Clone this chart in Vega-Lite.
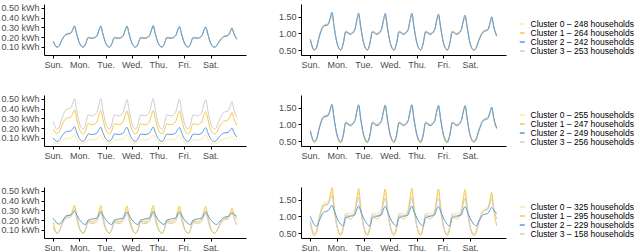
{
"$schema": "https://vega.github.io/schema/vega-lite/v6.json",
"padding": {"left": 0, "top": 3, "right": 0, "bottom": 0},
"config": {
  "font": "Liberation Sans",
  "view": {"stroke": null},
  "axis": {"grid": false, "domainColor": "#000", "tickColor": "#000", "labelColor": "#4d4d4d", "labelFontSize": 9, "tickSize": 3, "labelPadding": 2, "domainWidth": 1, "tickWidth": 1, "labelFlush": false, "labelOverlap": false},
  "legend": {"title": null, "orient": "none", "legendX": 474, "legendY": 16, "symbolType": "stroke", "symbolSize": 25, "symbolStrokeWidth": 1.5, "labelFontSize": 8.5, "labelColor": "#000", "rowPadding": 0, "clipHeight": 8, "labelOffset": 4, "padding": 0, "labelLimit": 300}
},
"datasets": {
"l1": [{"k":"a","label":"Cluster 0 – 248 households"},{"k":"b","label":"Cluster 1 – 264 households"},{"k":"c","label":"Cluster 2 – 242 households"},{"k":"d","label":"Cluster 3 – 253 households"},{"k":"e","label":"Cluster 0 – 248 households"},{"k":"f","label":"Cluster 1 – 264 households"},{"k":"g","label":"Cluster 2 – 242 households"},{"k":"i","label":"Cluster 3 – 253 households"}],
"l2": [{"k":"a","label":"Cluster 0 – 255 households"},{"k":"b","label":"Cluster 1 – 247 households"},{"k":"c","label":"Cluster 2 – 249 households"},{"k":"d","label":"Cluster 3 – 256 households"},{"k":"e","label":"Cluster 0 – 255 households"},{"k":"f","label":"Cluster 1 – 247 households"},{"k":"g","label":"Cluster 2 – 249 households"},{"k":"i","label":"Cluster 3 – 256 households"}],
"l3": [{"k":"a","label":"Cluster 0 – 325 households"},{"k":"b","label":"Cluster 1 – 295 households"},{"k":"c","label":"Cluster 2 – 229 households"},{"k":"d","label":"Cluster 3 – 158 households"},{"k":"e","label":"Cluster 0 – 325 households"},{"k":"f","label":"Cluster 1 – 295 households"},{"k":"g","label":"Cluster 2 – 229 households"},{"k":"i","label":"Cluster 3 – 158 households"}],
"r1": [
{"h":0,"a":0.16,"b":0.162,"c":0.158,"d":0.16,"e":0.82,"f":0.83,"g":0.81,"i":0.82},
{"h":3.5,"a":0.1,"b":0.101,"c":0.097,"d":0.099,"e":0.5,"f":0.5,"g":0.5,"i":0.5},
{"h":5.5,"a":0.113,"b":0.114,"c":0.111,"d":0.113,"e":0.57,"f":0.58,"g":0.56,"i":0.57},
{"h":8,"a":0.172,"b":0.176,"c":0.17,"d":0.173,"e":0.9,"f":0.92,"g":0.89,"i":0.9},
{"h":12,"a":0.23,"b":0.234,"c":0.228,"d":0.231,"e":1.22,"f":1.24,"g":1.21,"i":1.22},
{"h":16,"a":0.24,"b":0.244,"c":0.238,"d":0.24,"e":1.27,"f":1.29,"g":1.26,"i":1.27},
{"h":18,"a":0.278,"b":0.276,"c":0.28,"d":0.278,"e":1.45,"f":1.42,"g":1.47,"i":1.44},
{"h":19.5,"a":0.31,"b":0.305,"c":0.315,"d":0.31,"e":1.6,"f":1.55,"g":1.63,"i":1.59},
{"h":21.5,"a":0.23,"b":0.23,"c":0.232,"d":0.231,"e":1.18,"f":1.16,"g":1.2,"i":1.18},
{"h":24,"a":0.142,"b":0.143,"c":0.14,"d":0.142,"e":0.72,"f":0.72,"g":0.72,"i":0.72},
{"h":27.5,"a":0.1,"b":0.101,"c":0.097,"d":0.099,"e":0.5,"f":0.49,"g":0.5,"i":0.5},
{"h":29.5,"a":0.129,"b":0.131,"c":0.127,"d":0.129,"e":0.67,"f":0.68,"g":0.66,"i":0.67},
{"h":32,"a":0.195,"b":0.199,"c":0.193,"d":0.195,"e":1.05,"f":1.07,"g":1.04,"i":1.05},
{"h":36,"a":0.19,"b":0.194,"c":0.188,"d":0.191,"e":0.98,"f":1,"g":0.97,"i":0.98},
{"h":40,"a":0.214,"b":0.218,"c":0.212,"d":0.214,"e":1.1,"f":1.12,"g":1.09,"i":1.1},
{"h":42,"a":0.274,"b":0.272,"c":0.276,"d":0.274,"e":1.4,"f":1.37,"g":1.42,"i":1.39},
{"h":43.5,"a":0.31,"b":0.306,"c":0.314,"d":0.31,"e":1.58,"f":1.53,"g":1.61,"i":1.57},
{"h":45.5,"a":0.23,"b":0.229,"c":0.232,"d":0.23,"e":1.17,"f":1.15,"g":1.19,"i":1.17},
{"h":48,"a":0.142,"b":0.143,"c":0.14,"d":0.142,"e":0.72,"f":0.72,"g":0.72,"i":0.72},
{"h":51.5,"a":0.1,"b":0.101,"c":0.097,"d":0.099,"e":0.5,"f":0.49,"g":0.5,"i":0.5},
{"h":53.5,"a":0.129,"b":0.131,"c":0.127,"d":0.129,"e":0.67,"f":0.68,"g":0.66,"i":0.67},
{"h":56,"a":0.195,"b":0.199,"c":0.193,"d":0.195,"e":1.05,"f":1.07,"g":1.04,"i":1.05},
{"h":60,"a":0.19,"b":0.194,"c":0.188,"d":0.191,"e":0.98,"f":1,"g":0.97,"i":0.98},
{"h":64,"a":0.214,"b":0.218,"c":0.212,"d":0.214,"e":1.1,"f":1.12,"g":1.09,"i":1.1},
{"h":66,"a":0.274,"b":0.272,"c":0.276,"d":0.274,"e":1.4,"f":1.37,"g":1.42,"i":1.39},
{"h":67.5,"a":0.31,"b":0.306,"c":0.314,"d":0.31,"e":1.57,"f":1.52,"g":1.6,"i":1.56},
{"h":69.5,"a":0.23,"b":0.229,"c":0.232,"d":0.23,"e":1.17,"f":1.15,"g":1.19,"i":1.17},
{"h":72,"a":0.142,"b":0.143,"c":0.14,"d":0.142,"e":0.72,"f":0.72,"g":0.72,"i":0.72},
{"h":75.5,"a":0.1,"b":0.101,"c":0.097,"d":0.099,"e":0.5,"f":0.49,"g":0.5,"i":0.5},
{"h":77.5,"a":0.129,"b":0.131,"c":0.127,"d":0.129,"e":0.67,"f":0.68,"g":0.66,"i":0.67},
{"h":80,"a":0.195,"b":0.199,"c":0.193,"d":0.195,"e":1.05,"f":1.07,"g":1.04,"i":1.05},
{"h":84,"a":0.19,"b":0.194,"c":0.188,"d":0.191,"e":0.98,"f":1,"g":0.97,"i":0.98},
{"h":88,"a":0.214,"b":0.218,"c":0.212,"d":0.214,"e":1.1,"f":1.12,"g":1.09,"i":1.1},
{"h":90,"a":0.274,"b":0.272,"c":0.276,"d":0.274,"e":1.4,"f":1.37,"g":1.42,"i":1.39},
{"h":91.5,"a":0.315,"b":0.311,"c":0.319,"d":0.315,"e":1.58,"f":1.53,"g":1.61,"i":1.57},
{"h":93.5,"a":0.23,"b":0.229,"c":0.232,"d":0.23,"e":1.17,"f":1.15,"g":1.19,"i":1.17},
{"h":96,"a":0.142,"b":0.143,"c":0.14,"d":0.142,"e":0.72,"f":0.72,"g":0.72,"i":0.72},
{"h":99.5,"a":0.1,"b":0.101,"c":0.097,"d":0.099,"e":0.5,"f":0.49,"g":0.5,"i":0.5},
{"h":101.5,"a":0.129,"b":0.131,"c":0.127,"d":0.129,"e":0.67,"f":0.68,"g":0.66,"i":0.67},
{"h":104,"a":0.195,"b":0.199,"c":0.193,"d":0.195,"e":1.05,"f":1.07,"g":1.04,"i":1.05},
{"h":108,"a":0.19,"b":0.194,"c":0.188,"d":0.191,"e":0.98,"f":1,"g":0.97,"i":0.98},
{"h":112,"a":0.214,"b":0.218,"c":0.212,"d":0.214,"e":1.1,"f":1.12,"g":1.09,"i":1.1},
{"h":114,"a":0.274,"b":0.272,"c":0.276,"d":0.274,"e":1.4,"f":1.37,"g":1.42,"i":1.39},
{"h":115.5,"a":0.305,"b":0.301,"c":0.309,"d":0.305,"e":1.55,"f":1.5,"g":1.58,"i":1.54},
{"h":117.5,"a":0.23,"b":0.229,"c":0.232,"d":0.23,"e":1.17,"f":1.15,"g":1.19,"i":1.17},
{"h":120,"a":0.142,"b":0.143,"c":0.14,"d":0.142,"e":0.72,"f":0.72,"g":0.72,"i":0.72},
{"h":123.5,"a":0.1,"b":0.101,"c":0.097,"d":0.099,"e":0.5,"f":0.49,"g":0.5,"i":0.5},
{"h":125.5,"a":0.129,"b":0.131,"c":0.127,"d":0.129,"e":0.67,"f":0.68,"g":0.66,"i":0.67},
{"h":128,"a":0.195,"b":0.199,"c":0.193,"d":0.195,"e":1.05,"f":1.07,"g":1.04,"i":1.05},
{"h":132,"a":0.19,"b":0.194,"c":0.188,"d":0.191,"e":0.98,"f":1,"g":0.97,"i":0.98},
{"h":136,"a":0.214,"b":0.218,"c":0.212,"d":0.214,"e":1.1,"f":1.12,"g":1.09,"i":1.1},
{"h":138,"a":0.274,"b":0.272,"c":0.276,"d":0.274,"e":1.38,"f":1.35,"g":1.4,"i":1.37},
{"h":139.5,"a":0.3,"b":0.296,"c":0.304,"d":0.3,"e":1.52,"f":1.47,"g":1.55,"i":1.51},
{"h":141.5,"a":0.23,"b":0.229,"c":0.232,"d":0.23,"e":1.16,"f":1.14,"g":1.18,"i":1.16},
{"h":144,"a":0.14,"b":0.141,"c":0.139,"d":0.14,"e":0.7,"f":0.7,"g":0.7,"i":0.7},
{"h":147.5,"a":0.1,"b":0.101,"c":0.097,"d":0.099,"e":0.5,"f":0.49,"g":0.5,"i":0.5},
{"h":149.5,"a":0.113,"b":0.114,"c":0.111,"d":0.113,"e":0.57,"f":0.58,"g":0.56,"i":0.57},
{"h":152,"a":0.158,"b":0.162,"c":0.156,"d":0.158,"e":0.8,"f":0.82,"g":0.79,"i":0.8},
{"h":156,"a":0.205,"b":0.209,"c":0.203,"d":0.206,"e":1.05,"f":1.07,"g":1.04,"i":1.05},
{"h":160,"a":0.218,"b":0.222,"c":0.216,"d":0.218,"e":1.11,"f":1.13,"g":1.1,"i":1.11},
{"h":162,"a":0.256,"b":0.254,"c":0.258,"d":0.256,"e":1.3,"f":1.27,"g":1.32,"i":1.29},
{"h":163.5,"a":0.29,"b":0.286,"c":0.294,"d":0.29,"e":1.47,"f":1.42,"g":1.5,"i":1.46},
{"h":165.5,"a":0.23,"b":0.229,"c":0.232,"d":0.23,"e":1.17,"f":1.15,"g":1.19,"i":1.17},
{"h":168,"a":0.18,"b":0.181,"c":0.178,"d":0.18,"e":0.92,"f":0.9,"g":0.93,"i":0.92}
],
"r2": [
{"h":0,"a":0.06,"b":0.19,"c":0.1,"d":0.27,"e":0.8,"f":0.84,"g":0.79,"i":0.81},
{"h":3.5,"a":0.04,"b":0.145,"c":0.065,"d":0.19,"e":0.48,"f":0.45,"g":0.49,"i":0.48},
{"h":5.5,"a":0.046,"b":0.161,"c":0.075,"d":0.21,"e":0.55,"f":0.52,"g":0.55,"i":0.56},
{"h":8,"a":0.07,"b":0.23,"c":0.12,"d":0.3,"e":0.89,"f":0.87,"g":0.87,"i":0.91},
{"h":12,"a":0.095,"b":0.3,"c":0.165,"d":0.39,"e":1.22,"f":1.23,"g":1.21,"i":1.25},
{"h":16,"a":0.1,"b":0.31,"c":0.171,"d":0.403,"e":1.26,"f":1.27,"g":1.26,"i":1.29},
{"h":18,"a":0.119,"b":0.351,"c":0.195,"d":0.456,"e":1.44,"f":1.43,"g":1.45,"i":1.45},
{"h":19.5,"a":0.135,"b":0.385,"c":0.215,"d":0.5,"e":1.58,"f":1.56,"g":1.6,"i":1.58},
{"h":21.5,"a":0.099,"b":0.294,"c":0.158,"d":0.382,"e":1.16,"f":1.13,"g":1.17,"i":1.16},
{"h":24,"a":0.059,"b":0.188,"c":0.094,"d":0.252,"e":0.69,"f":0.66,"g":0.7,"i":0.69},
{"h":27.5,"a":0.04,"b":0.14,"c":0.065,"d":0.19,"e":0.47,"f":0.44,"g":0.48,"i":0.47},
{"h":29.5,"a":0.053,"b":0.172,"c":0.088,"d":0.234,"e":0.65,"f":0.62,"g":0.64,"i":0.66},
{"h":32,"a":0.082,"b":0.245,"c":0.14,"d":0.335,"e":1.06,"f":1.05,"g":1.04,"i":1.08},
{"h":36,"a":0.08,"b":0.235,"c":0.135,"d":0.325,"e":0.97,"f":0.99,"g":0.96,"i":1},
{"h":40,"a":0.09,"b":0.264,"c":0.15,"d":0.36,"e":1.09,"f":1.1,"g":1.09,"i":1.12},
{"h":42,"a":0.115,"b":0.337,"c":0.188,"d":0.448,"e":1.39,"f":1.38,"g":1.4,"i":1.4},
{"h":43.5,"a":0.13,"b":0.38,"c":0.21,"d":0.5,"e":1.57,"f":1.55,"g":1.59,"i":1.57},
{"h":45.5,"a":0.096,"b":0.289,"c":0.155,"d":0.382,"e":1.15,"f":1.12,"g":1.16,"i":1.15},
{"h":48,"a":0.059,"b":0.188,"c":0.094,"d":0.252,"e":0.69,"f":0.66,"g":0.7,"i":0.69},
{"h":51.5,"a":0.04,"b":0.14,"c":0.065,"d":0.19,"e":0.47,"f":0.44,"g":0.48,"i":0.47},
{"h":53.5,"a":0.053,"b":0.172,"c":0.088,"d":0.234,"e":0.65,"f":0.62,"g":0.64,"i":0.66},
{"h":56,"a":0.082,"b":0.245,"c":0.14,"d":0.335,"e":1.06,"f":1.05,"g":1.04,"i":1.08},
{"h":60,"a":0.08,"b":0.235,"c":0.135,"d":0.325,"e":0.97,"f":0.99,"g":0.96,"i":1},
{"h":64,"a":0.09,"b":0.264,"c":0.15,"d":0.36,"e":1.09,"f":1.1,"g":1.09,"i":1.12},
{"h":66,"a":0.115,"b":0.337,"c":0.188,"d":0.448,"e":1.39,"f":1.38,"g":1.4,"i":1.4},
{"h":67.5,"a":0.13,"b":0.375,"c":0.21,"d":0.49,"e":1.56,"f":1.54,"g":1.58,"i":1.56},
{"h":69.5,"a":0.096,"b":0.289,"c":0.155,"d":0.382,"e":1.15,"f":1.12,"g":1.16,"i":1.15},
{"h":72,"a":0.059,"b":0.188,"c":0.094,"d":0.252,"e":0.69,"f":0.66,"g":0.7,"i":0.69},
{"h":75.5,"a":0.04,"b":0.14,"c":0.065,"d":0.19,"e":0.47,"f":0.44,"g":0.48,"i":0.47},
{"h":77.5,"a":0.053,"b":0.172,"c":0.088,"d":0.234,"e":0.65,"f":0.62,"g":0.64,"i":0.66},
{"h":80,"a":0.082,"b":0.245,"c":0.14,"d":0.335,"e":1.06,"f":1.05,"g":1.04,"i":1.08},
{"h":84,"a":0.08,"b":0.235,"c":0.135,"d":0.325,"e":0.97,"f":0.99,"g":0.96,"i":1},
{"h":88,"a":0.09,"b":0.264,"c":0.15,"d":0.36,"e":1.09,"f":1.1,"g":1.09,"i":1.12},
{"h":90,"a":0.115,"b":0.337,"c":0.188,"d":0.448,"e":1.39,"f":1.38,"g":1.4,"i":1.4},
{"h":91.5,"a":0.132,"b":0.38,"c":0.212,"d":0.5,"e":1.57,"f":1.55,"g":1.59,"i":1.57},
{"h":93.5,"a":0.096,"b":0.289,"c":0.155,"d":0.382,"e":1.15,"f":1.12,"g":1.16,"i":1.15},
{"h":96,"a":0.059,"b":0.188,"c":0.094,"d":0.252,"e":0.69,"f":0.66,"g":0.7,"i":0.69},
{"h":99.5,"a":0.04,"b":0.14,"c":0.065,"d":0.19,"e":0.47,"f":0.44,"g":0.48,"i":0.47},
{"h":101.5,"a":0.053,"b":0.172,"c":0.088,"d":0.234,"e":0.65,"f":0.62,"g":0.64,"i":0.66},
{"h":104,"a":0.082,"b":0.245,"c":0.14,"d":0.335,"e":1.06,"f":1.05,"g":1.04,"i":1.08},
{"h":108,"a":0.08,"b":0.235,"c":0.135,"d":0.325,"e":0.97,"f":0.99,"g":0.96,"i":1},
{"h":112,"a":0.09,"b":0.264,"c":0.15,"d":0.36,"e":1.09,"f":1.1,"g":1.09,"i":1.12},
{"h":114,"a":0.115,"b":0.337,"c":0.188,"d":0.448,"e":1.39,"f":1.38,"g":1.4,"i":1.4},
{"h":115.5,"a":0.128,"b":0.375,"c":0.207,"d":0.495,"e":1.55,"f":1.53,"g":1.57,"i":1.55},
{"h":117.5,"a":0.096,"b":0.289,"c":0.155,"d":0.382,"e":1.15,"f":1.12,"g":1.16,"i":1.15},
{"h":120,"a":0.059,"b":0.188,"c":0.094,"d":0.252,"e":0.69,"f":0.66,"g":0.7,"i":0.69},
{"h":123.5,"a":0.04,"b":0.14,"c":0.065,"d":0.19,"e":0.47,"f":0.44,"g":0.48,"i":0.47},
{"h":125.5,"a":0.053,"b":0.172,"c":0.088,"d":0.234,"e":0.65,"f":0.62,"g":0.64,"i":0.66},
{"h":128,"a":0.082,"b":0.245,"c":0.14,"d":0.335,"e":1.06,"f":1.05,"g":1.04,"i":1.08},
{"h":132,"a":0.08,"b":0.235,"c":0.135,"d":0.325,"e":0.97,"f":0.99,"g":0.96,"i":1},
{"h":136,"a":0.09,"b":0.264,"c":0.15,"d":0.36,"e":1.09,"f":1.1,"g":1.09,"i":1.12},
{"h":138,"a":0.115,"b":0.337,"c":0.188,"d":0.448,"e":1.39,"f":1.38,"g":1.4,"i":1.4},
{"h":139.5,"a":0.127,"b":0.37,"c":0.205,"d":0.49,"e":1.54,"f":1.52,"g":1.56,"i":1.54},
{"h":141.5,"a":0.096,"b":0.289,"c":0.155,"d":0.382,"e":1.15,"f":1.12,"g":1.16,"i":1.15},
{"h":144,"a":0.058,"b":0.186,"c":0.093,"d":0.25,"e":0.68,"f":0.65,"g":0.69,"i":0.68},
{"h":147.5,"a":0.04,"b":0.14,"c":0.065,"d":0.19,"e":0.48,"f":0.45,"g":0.49,"i":0.48},
{"h":149.5,"a":0.046,"b":0.156,"c":0.075,"d":0.21,"e":0.56,"f":0.53,"g":0.56,"i":0.57},
{"h":152,"a":0.068,"b":0.212,"c":0.112,"d":0.284,"e":0.83,"f":0.81,"g":0.81,"i":0.85},
{"h":156,"a":0.09,"b":0.27,"c":0.15,"d":0.36,"e":1.12,"f":1.13,"g":1.11,"i":1.15},
{"h":160,"a":0.095,"b":0.284,"c":0.158,"d":0.377,"e":1.18,"f":1.19,"g":1.17,"i":1.21},
{"h":162,"a":0.111,"b":0.324,"c":0.18,"d":0.426,"e":1.35,"f":1.34,"g":1.36,"i":1.36},
{"h":163.5,"a":0.125,"b":0.36,"c":0.2,"d":0.47,"e":1.5,"f":1.48,"g":1.52,"i":1.5},
{"h":165.5,"a":0.1,"b":0.289,"c":0.151,"d":0.382,"e":1.16,"f":1.13,"g":1.17,"i":1.16},
{"h":168,"a":0.08,"b":0.23,"c":0.11,"d":0.31,"e":0.88,"f":0.85,"g":0.89,"i":0.88}
],
"r3": [
{"h":0,"a":0.12,"b":0.18,"c":0.22,"d":0.13,"e":0.88,"f":0.8,"g":1,"i":0.85},
{"h":3.5,"a":0.07,"b":0.07,"c":0.17,"d":0.065,"e":0.48,"f":0.42,"g":0.76,"i":0.46},
{"h":5.5,"a":0.088,"b":0.087,"c":0.158,"d":0.081,"e":0.57,"f":0.51,"g":0.7,"i":0.55},
{"h":8,"a":0.166,"b":0.161,"c":0.185,"d":0.15,"e":0.99,"f":0.9,"g":0.86,"i":0.95},
{"h":12,"a":0.245,"b":0.235,"c":0.245,"d":0.22,"e":1.4,"f":1.3,"g":1.12,"i":1.35},
{"h":16,"a":0.255,"b":0.249,"c":0.252,"d":0.231,"e":1.44,"f":1.37,"g":1.17,"i":1.38},
{"h":18,"a":0.296,"b":0.307,"c":0.272,"d":0.274,"e":1.59,"f":1.64,"g":1.26,"i":1.51},
{"h":19.5,"a":0.33,"b":0.355,"c":0.29,"d":0.31,"e":1.72,"f":1.86,"g":1.33,"i":1.62},
{"h":21.5,"a":0.231,"b":0.247,"c":0.255,"d":0.217,"e":1.25,"f":1.31,"g":1.18,"i":1.18},
{"h":24,"a":0.122,"b":0.123,"c":0.205,"d":0.107,"e":0.73,"f":0.71,"g":0.95,"i":0.69},
{"h":27.5,"a":0.07,"b":0.065,"c":0.165,"d":0.065,"e":0.48,"f":0.42,"g":0.76,"i":0.46},
{"h":29.5,"a":0.109,"b":0.103,"c":0.155,"d":0.098,"e":0.67,"f":0.59,"g":0.71,"i":0.64},
{"h":32,"a":0.2,"b":0.19,"c":0.2,"d":0.175,"e":1.1,"f":1,"g":0.95,"i":1.05},
{"h":36,"a":0.19,"b":0.18,"c":0.212,"d":0.165,"e":1.08,"f":0.92,"g":1,"i":1.02},
{"h":40,"a":0.216,"b":0.214,"c":0.222,"d":0.187,"e":1.21,"f":1.1,"g":1.04,"i":1.13},
{"h":42,"a":0.281,"b":0.299,"c":0.262,"d":0.242,"e":1.53,"f":1.56,"g":1.22,"i":1.4},
{"h":43.5,"a":0.32,"b":0.35,"c":0.29,"d":0.275,"e":1.72,"f":1.84,"g":1.31,"i":1.57},
{"h":45.5,"a":0.225,"b":0.242,"c":0.252,"d":0.195,"e":1.25,"f":1.29,"g":1.15,"i":1.14},
{"h":48,"a":0.122,"b":0.123,"c":0.205,"d":0.107,"e":0.73,"f":0.71,"g":0.95,"i":0.69},
{"h":51.5,"a":0.07,"b":0.065,"c":0.165,"d":0.065,"e":0.48,"f":0.42,"g":0.76,"i":0.46},
{"h":53.5,"a":0.109,"b":0.103,"c":0.155,"d":0.098,"e":0.67,"f":0.59,"g":0.71,"i":0.64},
{"h":56,"a":0.2,"b":0.19,"c":0.2,"d":0.175,"e":1.1,"f":1,"g":0.95,"i":1.05},
{"h":60,"a":0.19,"b":0.18,"c":0.212,"d":0.165,"e":1.08,"f":0.92,"g":1,"i":1.02},
{"h":64,"a":0.216,"b":0.214,"c":0.222,"d":0.187,"e":1.21,"f":1.1,"g":1.04,"i":1.13},
{"h":66,"a":0.281,"b":0.299,"c":0.262,"d":0.242,"e":1.53,"f":1.56,"g":1.22,"i":1.4},
{"h":67.5,"a":0.315,"b":0.345,"c":0.285,"d":0.27,"e":1.7,"f":1.82,"g":1.3,"i":1.55},
{"h":69.5,"a":0.225,"b":0.242,"c":0.252,"d":0.195,"e":1.25,"f":1.29,"g":1.15,"i":1.14},
{"h":72,"a":0.122,"b":0.123,"c":0.205,"d":0.107,"e":0.73,"f":0.71,"g":0.95,"i":0.69},
{"h":75.5,"a":0.07,"b":0.065,"c":0.165,"d":0.065,"e":0.48,"f":0.42,"g":0.76,"i":0.46},
{"h":77.5,"a":0.109,"b":0.103,"c":0.155,"d":0.098,"e":0.67,"f":0.59,"g":0.71,"i":0.64},
{"h":80,"a":0.2,"b":0.19,"c":0.2,"d":0.175,"e":1.1,"f":1,"g":0.95,"i":1.05},
{"h":84,"a":0.19,"b":0.18,"c":0.212,"d":0.165,"e":1.08,"f":0.92,"g":1,"i":1.02},
{"h":88,"a":0.216,"b":0.214,"c":0.222,"d":0.187,"e":1.21,"f":1.1,"g":1.04,"i":1.13},
{"h":90,"a":0.281,"b":0.299,"c":0.262,"d":0.242,"e":1.53,"f":1.56,"g":1.22,"i":1.4},
{"h":91.5,"a":0.32,"b":0.35,"c":0.29,"d":0.275,"e":1.72,"f":1.84,"g":1.31,"i":1.56},
{"h":93.5,"a":0.225,"b":0.242,"c":0.252,"d":0.195,"e":1.25,"f":1.29,"g":1.15,"i":1.14},
{"h":96,"a":0.122,"b":0.123,"c":0.205,"d":0.107,"e":0.73,"f":0.71,"g":0.95,"i":0.69},
{"h":99.5,"a":0.07,"b":0.065,"c":0.165,"d":0.065,"e":0.48,"f":0.42,"g":0.76,"i":0.46},
{"h":101.5,"a":0.109,"b":0.103,"c":0.155,"d":0.098,"e":0.67,"f":0.59,"g":0.71,"i":0.64},
{"h":104,"a":0.2,"b":0.19,"c":0.2,"d":0.175,"e":1.1,"f":1,"g":0.95,"i":1.05},
{"h":108,"a":0.19,"b":0.18,"c":0.212,"d":0.165,"e":1.08,"f":0.92,"g":1,"i":1.02},
{"h":112,"a":0.216,"b":0.214,"c":0.222,"d":0.187,"e":1.21,"f":1.1,"g":1.04,"i":1.13},
{"h":114,"a":0.281,"b":0.299,"c":0.262,"d":0.242,"e":1.53,"f":1.56,"g":1.22,"i":1.4},
{"h":115.5,"a":0.315,"b":0.345,"c":0.285,"d":0.27,"e":1.7,"f":1.82,"g":1.3,"i":1.55},
{"h":117.5,"a":0.225,"b":0.242,"c":0.252,"d":0.195,"e":1.25,"f":1.29,"g":1.15,"i":1.14},
{"h":120,"a":0.122,"b":0.123,"c":0.205,"d":0.107,"e":0.73,"f":0.71,"g":0.95,"i":0.69},
{"h":123.5,"a":0.07,"b":0.065,"c":0.165,"d":0.065,"e":0.48,"f":0.42,"g":0.76,"i":0.46},
{"h":125.5,"a":0.109,"b":0.103,"c":0.155,"d":0.098,"e":0.67,"f":0.59,"g":0.71,"i":0.64},
{"h":128,"a":0.2,"b":0.19,"c":0.2,"d":0.175,"e":1.1,"f":1,"g":0.95,"i":1.05},
{"h":132,"a":0.19,"b":0.18,"c":0.212,"d":0.165,"e":1.08,"f":0.92,"g":1,"i":1.02},
{"h":136,"a":0.216,"b":0.214,"c":0.222,"d":0.187,"e":1.21,"f":1.1,"g":1.04,"i":1.13},
{"h":138,"a":0.281,"b":0.299,"c":0.262,"d":0.242,"e":1.53,"f":1.56,"g":1.22,"i":1.4},
{"h":139.5,"a":0.31,"b":0.34,"c":0.285,"d":0.27,"e":1.68,"f":1.8,"g":1.29,"i":1.54},
{"h":141.5,"a":0.225,"b":0.242,"c":0.252,"d":0.195,"e":1.25,"f":1.29,"g":1.15,"i":1.14},
{"h":144,"a":0.12,"b":0.12,"c":0.205,"d":0.11,"e":0.72,"f":0.7,"g":0.95,"i":0.68},
{"h":147.5,"a":0.07,"b":0.065,"c":0.165,"d":0.07,"e":0.48,"f":0.42,"g":0.76,"i":0.47},
{"h":149.5,"a":0.088,"b":0.082,"c":0.155,"d":0.086,"e":0.57,"f":0.51,"g":0.71,"i":0.55},
{"h":152,"a":0.153,"b":0.145,"c":0.18,"d":0.142,"e":0.88,"f":0.82,"g":0.86,"i":0.84},
{"h":156,"a":0.22,"b":0.21,"c":0.228,"d":0.2,"e":1.2,"f":1.15,"g":1.05,"i":1.15},
{"h":160,"a":0.234,"b":0.227,"c":0.238,"d":0.212,"e":1.26,"f":1.24,"g":1.09,"i":1.21},
{"h":162,"a":0.274,"b":0.279,"c":0.258,"d":0.248,"e":1.45,"f":1.49,"g":1.19,"i":1.37},
{"h":163.5,"a":0.31,"b":0.325,"c":0.275,"d":0.28,"e":1.62,"f":1.72,"g":1.27,"i":1.52},
{"h":165.5,"a":0.233,"b":0.262,"c":0.258,"d":0.209,"e":1.25,"f":1.17,"g":1.18,"i":1.19},
{"h":168,"a":0.17,"b":0.21,"c":0.24,"d":0.15,"e":0.95,"f":0.72,"g":1.08,"i":0.92}
]
},
"spacing": 25,
"resolve": {"scale": {"color": "independent", "x": "independent", "y": "independent"}, "legend": {"color": "independent"}},
"vconcat": [
{"hconcat": [
 {"width": 202, "height": 51, "data": {"name": "r1"},
  "transform": [{"fold": ["a","b","d","c"], "as": ["k","v"]}, {"lookup": "k", "from": {"data": {"name": "l1"}, "key": "k", "fields": ["label"]}}],
  "mark": {"type": "line", "strokeWidth": 1, "interpolate": "monotone"},
  "encoding": {
   "x": {"field": "h", "type": "quantitative", "scale": {"domain": [-8.4, 176.4], "nice": false, "zero": false}, "axis": {"title": null, "values": [0,24,48,72,96,120,144], "labelExpr": "['Sun.','Mon.','Tue.','Wed.','Thu.','Fri.','Sat.'][round(datum.value/24)]", "minExtent": 14, "maxExtent": 14}},
   "y": {"field": "v", "type": "quantitative", "scale": {"domain": [0.018, 0.538], "nice": false, "zero": false}, "axis": {"title": null, "values": [0.1,0.2,0.3,0.4,0.5], "labelExpr": "format(datum.value, '.2f') + ' kWh'", "minExtent": 42, "maxExtent": 42}},
   "color": {"field": "label", "type": "nominal", "scale": {"range": ["#FDE8A4", "#F5C845", "#5A9BE2", "#CDCDCD"]}}
  }},
 {"width": 205, "height": 51, "data": {"name": "r1"},
  "transform": [{"fold": ["e","f","i","g"], "as": ["k","v"]}, {"lookup": "k", "from": {"data": {"name": "l1"}, "key": "k", "fields": ["label"]}}],
  "mark": {"type": "line", "strokeWidth": 1, "interpolate": "monotone"},
  "encoding": {
   "x": {"field": "h", "type": "quantitative", "scale": {"domain": [-8.4, 176.4], "nice": false, "zero": false}, "axis": {"title": null, "values": [0,24,48,72,96,120,144], "labelExpr": "['Sun.','Mon.','Tue.','Wed.','Thu.','Fri.','Sat.'][round(datum.value/24)]", "minExtent": 14, "maxExtent": 14}},
   "y": {"field": "v", "type": "quantitative", "scale": {"domain": [0.35, 1.88], "nice": false, "zero": false}, "axis": {"title": null, "values": [0.5,1,1.5], "format": ".2f", "minExtent": 22, "maxExtent": 22}},
   "color": {"field": "label", "type": "nominal", "scale": {"range": ["#FDE8A4", "#F5C845", "#5A9BE2", "#CDCDCD"]}}
  }}
 ], "spacing": 32, "resolve": {"scale": {"color": "shared", "x": "independent", "y": "independent"}, "legend": {"color": "shared"}}},
{"hconcat": [
 {"width": 202, "height": 51, "data": {"name": "r2"},
  "transform": [{"fold": ["a","b","d","c"], "as": ["k","v"]}, {"lookup": "k", "from": {"data": {"name": "l2"}, "key": "k", "fields": ["label"]}}],
  "mark": {"type": "line", "strokeWidth": 1, "interpolate": "monotone"},
  "encoding": {
   "x": {"field": "h", "type": "quantitative", "scale": {"domain": [-8.4, 176.4], "nice": false, "zero": false}, "axis": {"title": null, "values": [0,24,48,72,96,120,144], "labelExpr": "['Sun.','Mon.','Tue.','Wed.','Thu.','Fri.','Sat.'][round(datum.value/24)]", "minExtent": 14, "maxExtent": 14}},
   "y": {"field": "v", "type": "quantitative", "scale": {"domain": [0.018, 0.538], "nice": false, "zero": false}, "axis": {"title": null, "values": [0.1,0.2,0.3,0.4,0.5], "labelExpr": "format(datum.value, '.2f') + ' kWh'", "minExtent": 42, "maxExtent": 42}},
   "color": {"field": "label", "type": "nominal", "scale": {"range": ["#FDE8A4", "#F5C845", "#5A9BE2", "#CDCDCD"]}}
  }},
 {"width": 205, "height": 51, "data": {"name": "r2"},
  "transform": [{"fold": ["e","f","i","g"], "as": ["k","v"]}, {"lookup": "k", "from": {"data": {"name": "l2"}, "key": "k", "fields": ["label"]}}],
  "mark": {"type": "line", "strokeWidth": 1, "interpolate": "monotone"},
  "encoding": {
   "x": {"field": "h", "type": "quantitative", "scale": {"domain": [-8.4, 176.4], "nice": false, "zero": false}, "axis": {"title": null, "values": [0,24,48,72,96,120,144], "labelExpr": "['Sun.','Mon.','Tue.','Wed.','Thu.','Fri.','Sat.'][round(datum.value/24)]", "minExtent": 14, "maxExtent": 14}},
   "y": {"field": "v", "type": "quantitative", "scale": {"domain": [0.35, 1.88], "nice": false, "zero": false}, "axis": {"title": null, "values": [0.5,1,1.5], "format": ".2f", "minExtent": 22, "maxExtent": 22}},
   "color": {"field": "label", "type": "nominal", "scale": {"range": ["#FDE8A4", "#F5C845", "#5A9BE2", "#CDCDCD"]}}
  }}
 ], "spacing": 32, "resolve": {"scale": {"color": "shared", "x": "independent", "y": "independent"}, "legend": {"color": "shared"}}},
{"hconcat": [
 {"width": 202, "height": 51, "data": {"name": "r3"},
  "transform": [{"fold": ["a","b","d","c"], "as": ["k","v"]}, {"lookup": "k", "from": {"data": {"name": "l3"}, "key": "k", "fields": ["label"]}}],
  "mark": {"type": "line", "strokeWidth": 1, "interpolate": "monotone"},
  "encoding": {
   "x": {"field": "h", "type": "quantitative", "scale": {"domain": [-8.4, 176.4], "nice": false, "zero": false}, "axis": {"title": null, "values": [0,24,48,72,96,120,144], "labelExpr": "['Sun.','Mon.','Tue.','Wed.','Thu.','Fri.','Sat.'][round(datum.value/24)]", "minExtent": 14, "maxExtent": 14}},
   "y": {"field": "v", "type": "quantitative", "scale": {"domain": [0.018, 0.538], "nice": false, "zero": false}, "axis": {"title": null, "values": [0.1,0.2,0.3,0.4,0.5], "labelExpr": "format(datum.value, '.2f') + ' kWh'", "minExtent": 42, "maxExtent": 42}},
   "color": {"field": "label", "type": "nominal", "scale": {"range": ["#FDE8A4", "#F5C845", "#5A9BE2", "#CDCDCD"]}}
  }},
 {"width": 205, "height": 51, "data": {"name": "r3"},
  "transform": [{"fold": ["e","f","i","g"], "as": ["k","v"]}, {"lookup": "k", "from": {"data": {"name": "l3"}, "key": "k", "fields": ["label"]}}],
  "mark": {"type": "line", "strokeWidth": 1, "interpolate": "monotone"},
  "encoding": {
   "x": {"field": "h", "type": "quantitative", "scale": {"domain": [-8.4, 176.4], "nice": false, "zero": false}, "axis": {"title": null, "values": [0,24,48,72,96,120,144], "labelExpr": "['Sun.','Mon.','Tue.','Wed.','Thu.','Fri.','Sat.'][round(datum.value/24)]", "minExtent": 14, "maxExtent": 14}},
   "y": {"field": "v", "type": "quantitative", "scale": {"domain": [0.35, 1.88], "nice": false, "zero": false}, "axis": {"title": null, "values": [0.5,1,1.5], "format": ".2f", "minExtent": 22, "maxExtent": 22}},
   "color": {"field": "label", "type": "nominal", "scale": {"range": ["#FDE8A4", "#F5C845", "#5A9BE2", "#CDCDCD"]}}
  }}
 ], "spacing": 32, "resolve": {"scale": {"color": "shared", "x": "independent", "y": "independent"}, "legend": {"color": "shared"}}}
]
}
